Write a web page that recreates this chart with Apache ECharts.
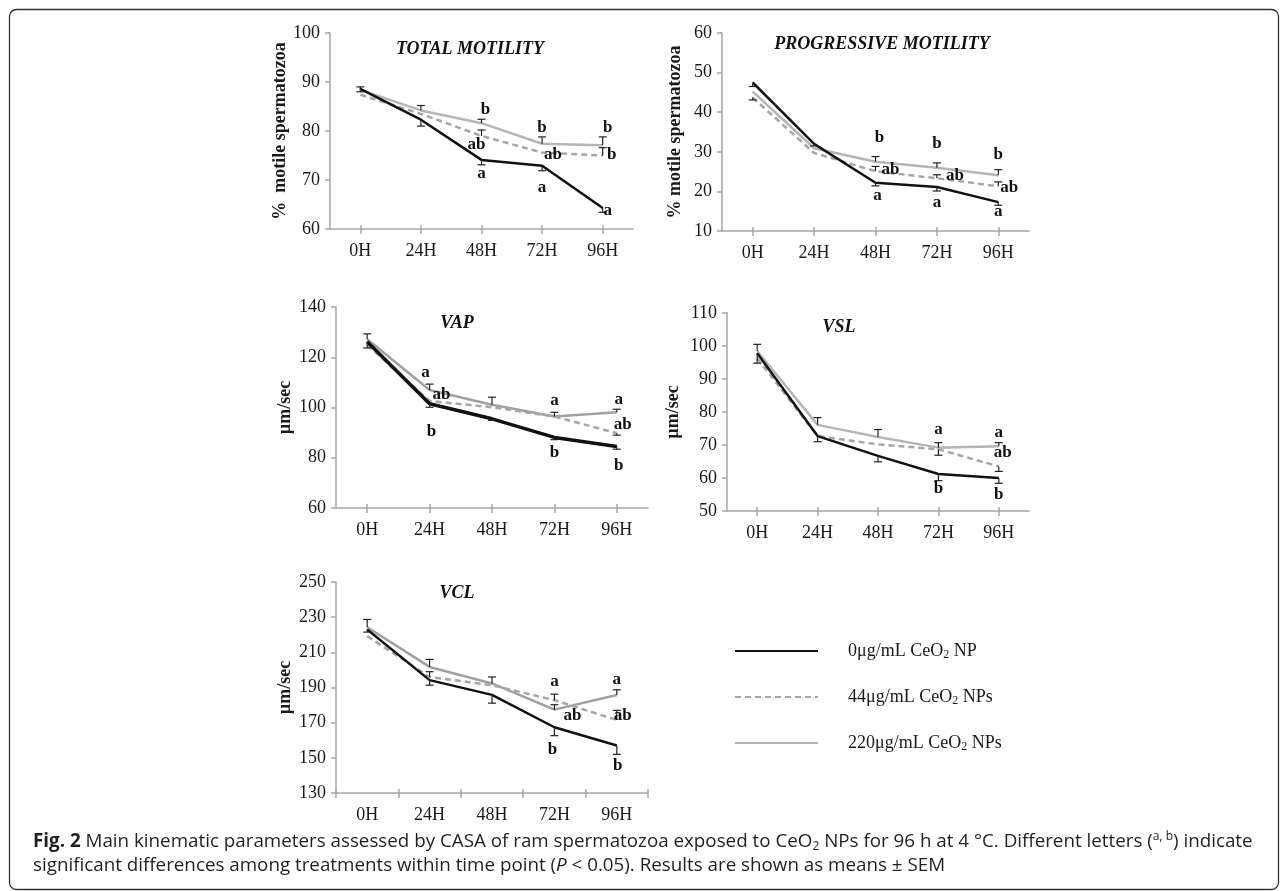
<!DOCTYPE html>
<html><head><meta charset="utf-8">
<script src="https://cdn.jsdelivr.net/npm/echarts@6/dist/echarts.min.js"></script>
<style>html,body{margin:0;padding:0;background:#fff}#c{width:1287px;height:891px}</style>
</head><body><div id="c"></div>
<script>
// ---------- DATA ----------
const hours = ['0H', '24H', '48H', '72H', '96H'];
const seriesNames = ['0μg/mL CeO2 NP', '44μg/mL CeO2 NPs', '220μg/mL CeO2 NPs'];
const panelTitles = ['TOTAL MOTILITY', 'PROGRESSIVE MOTILITY', 'VAP', 'VSL', 'VCL'];
const yNames = ['%  motile spermatozoa', '% motile spermatozoa', 'µm/sec', 'µm/sec', 'µm/sec'];

// Total motility (%)
const tmCtrl = [88.6, 82.3, 74.1, 72.9, 64.3];
const tm44   = [87.4, 83.5, 79.0, 75.6, 75.0];
const tm220  = [88.4, 84.2, 81.6, 77.4, 77.1];
const tmErrCtrl = [-0.6, -1.3, -1.0, -1.0, -0.9];
const tmErr44   = [0, 0, 1.2, 0, 1.6];
const tmErr220  = [0.6, 1.0, 0.8, 1.4, 1.7];
const tmLetters = [[2, 84.4, 'b'], [2, 77.2, 'ab'], [2, 71.4, 'a'], [3, 80.6, 'b'], [3, 75.2, 'ab'], [3, 68.4, 'a'], [4, 80.6, 'b'], [4, 75.2, 'b'], [4, 63.8, 'a']];

// Progressive motility (%)
const pmCtrl = [47.5, 32.0, 22.2, 21.1, 17.3];
const pm44   = [43.7, 29.7, 25.1, 23.3, 21.3];
const pm220  = [45.2, 30.9, 27.5, 26.0, 24.1];
const pmErrCtrl = [-1.0, -0.5, -0.8, -1.0, -0.8];
const pmErr44   = [-0.6, 0, 1.2, 0.9, 1.1];
const pmErr220  = [0, 0, 1.3, 1.2, 1.4];
const pmLetters = [[2, 33.6, 'b'], [2, 25.4, 'ab'], [2, 19.0, 'a'], [3, 32.1, 'b'], [3, 23.9, 'ab'], [3, 17.1, 'a'], [4, 29.2, 'b'], [4, 20.9, 'ab'], [4, 14.8, 'a']];

// VAP (µm/sec)
const vapCtrl = [126.2, 101.5, 95.5, 88.1, 84.5];
const vap44   = [124.9, 102.6, 100.1, 96.4, 89.8];
const vap220  = [127.2, 107.0, 101.1, 96.4, 98.1];
const vapErrCtrl = [-2.5, -1.4, -0.6, -0.9, -1.1];
const vapErr44   = [0, 0, 0, 0, -0.8];
const vapErr220  = [2.1, 2.3, 3.0, 1.7, 1.2];
const vapLetters = [[1, 114.0, 'a'], [1, 105.0, 'ab'], [1, 90.5, 'b'], [3, 102.6, 'a'], [3, 81.9, 'b'], [4, 103.3, 'a'], [4, 93.1, 'ab'], [4, 77.0, 'b']];

// VSL (µm/sec)
const vslCtrl = [97.8, 72.7, 66.7, 61.2, 60.0];
const vsl44   = [96.3, 72.7, 70.2, 68.7, 63.5];
const vsl220  = [98.5, 76.1, 72.4, 69.2, 69.6];
const vslErrCtrl = [-3.0, -1.7, -1.8, -2.0, -1.6];
const vslErr44   = [0, 0, 0, -1.8, -1.5];
const vslErr220  = [2.0, 2.2, 2.3, 1.5, 1.1];
const vslLetters = [[3, 74.7, 'a'], [3, 56.7, 'b'], [4, 73.7, 'a'], [4, 67.7, 'ab'], [4, 55.0, 'b']];

// VCL (µm/sec)
const vclCtrl = [223.0, 194.2, 185.8, 167.4, 157.0];
const vcl44   = [219.2, 196.0, 191.3, 182.8, 171.5];
const vcl220  = [224.3, 201.7, 192.3, 177.4, 185.7];
const vclErrCtrl = [-1.5, -2.9, -4.7, -4.8, -5.0];
const vclErr44   = [0, 3.0, 0, 3.4, 5.5];
const vclErr220  = [4.4, 4.3, 3.7, 2.8, 3.0];
const vclLetters = [[3, 193.4, 'a'], [3, 174.0, 'ab'], [3, 154.5, 'b'], [4, 194.7, 'a'], [4, 174.0, 'ab'], [4, 145.7, 'b']];

// y-axis ranges [min, max, interval]
const yRanges = [[60, 100, 10], [10, 60, 10], [60, 140, 20], [50, 110, 10], [130, 250, 20]];

// ---------- LAYOUT / STYLE ----------
const SERIF = "'Liberation Serif','Times New Roman',serif";
const grids = [
  {left: 330, top: 33, width: 303, height: 196},
  {left: 722, top: 33, width: 307, height: 198},
  {left: 336, top: 307, width: 312, height: 201},
  {left: 727, top: 313, width: 302, height: 198},
  {left: 336, top: 582, width: 312, height: 211}
];
const nameGaps = [38, 38, 42, 45, 42];
const titlePos = [[470, 49], [882, 44], [457, 323], [839, 327], [457, 593]];
const grayColors = ['#b5b5b5', '#b5b5b5', '#a0a0a0', '#b5b5b5', '#a0a0a0'];
const blackWidths = [2.5, 2.5, 3.5, 2.5, 2.5];
const ticksOnPoints = [true, true, true, true, false];
const letterDx = [
  [4, -5, 0, 0, 11, 0, 5, 9, 5],
  [4, 15, 2, 0, 18, 0, 0, 11, 0],
  [-4, 12, 2, 0, 0, 2, 6, 2],
  [0, 0, 0, 4, 0],
  [0, 18, -2, 0, 6, 1]
];

const panels = [
  {vals: [tmCtrl, tm44, tm220], errs: [tmErrCtrl, tmErr44, tmErr220], letters: tmLetters},
  {vals: [pmCtrl, pm44, pm220], errs: [pmErrCtrl, pmErr44, pmErr220], letters: pmLetters},
  {vals: [vapCtrl, vap44, vap220], errs: [vapErrCtrl, vapErr44, vapErr220], letters: vapLetters},
  {vals: [vslCtrl, vsl44, vsl220], errs: [vslErrCtrl, vslErr44, vslErr220], letters: vslLetters},
  {vals: [vclCtrl, vcl44, vcl220], errs: [vclErrCtrl, vclErr44, vclErr220], letters: vclLetters}
];

function errRender(params, api) {
  const x = api.value(0), y = api.value(1), e = api.value(2);
  const p0 = api.coord([x, y]);
  const p1 = api.coord([x, y + e]);
  const hw = 4;
  const st = {stroke: '#222', lineWidth: 1.2};
  return {type: 'group', children: [
    {type: 'line', shape: {x1: p0[0], y1: p0[1], x2: p1[0], y2: p1[1]}, style: st},
    {type: 'line', shape: {x1: p1[0] - hw, y1: p1[1], x2: p1[0] + hw, y2: p1[1]}, style: st}
  ]};
}

const gridOpt = [], xAxes = [], yAxes = [], series = [], graphics = [];
panels.forEach((p, k) => {
  gridOpt.push(Object.assign({containLabel: false}, grids[k]));
  const axisLineStyle = {color: '#a6a6a6', width: 1.5};
  xAxes.push({
    type: 'category', gridIndex: k, data: hours, boundaryGap: true,
    axisLine: {lineStyle: axisLineStyle},
    axisTick: {show: true, alignWithLabel: ticksOnPoints[k], length: 5, lineStyle: axisLineStyle},
    axisLabel: {color: '#1a1a1a', fontFamily: SERIF, fontSize: 18, margin: 13},
    splitLine: {show: false}
  });
  xAxes.push({
    type: 'category', gridIndex: k, data: hours, boundaryGap: true, position: 'bottom',
    axisLine: {show: false},
    axisTick: {show: true, inside: true, alignWithLabel: ticksOnPoints[k], length: 4, lineStyle: axisLineStyle},
    axisLabel: {show: false}, splitLine: {show: false}
  });
  const r = yRanges[k];
  yAxes.push({
    type: 'value', gridIndex: k, min: r[0], max: r[1], interval: r[2],
    name: yNames[k], nameLocation: 'middle', nameRotate: 90, nameGap: nameGaps[k],
    nameTextStyle: {fontFamily: SERIF, fontWeight: 'bold', fontSize: 18, color: '#1a1a1a'},
    axisLine: {show: true, lineStyle: axisLineStyle},
    axisTick: {show: true, length: 5, lineStyle: axisLineStyle},
    axisLabel: {color: '#1a1a1a', fontFamily: SERIF, fontSize: 18, margin: 10},
    splitLine: {show: false}
  });
  const xi = 2 * k;
  const lineDefs = [
    {color: '#111', width: blackWidths[k], type: 'solid', z: 4},
    {color: '#a6a6a6', width: 2.5, type: [6, 4], z: 3},
    {color: grayColors[k], width: 2.5, type: 'solid', z: 2}
  ];
  lineDefs.forEach((d, s) => {
    series.push({
      type: 'line', name: seriesNames[s], xAxisIndex: xi, yAxisIndex: k,
      data: p.vals[s], symbol: 'none', showSymbol: false, z: d.z, animation: false,
      lineStyle: {color: d.color, width: d.width, type: d.type},
      itemStyle: {color: d.color}
    });
  });
  const errData = [];
  [0, 1, 2].forEach(s => p.errs[s].forEach((e, i) => { if (e !== 0) errData.push([i, p.vals[s][i], e]); }));
  series.push({
    type: 'custom', xAxisIndex: xi, yAxisIndex: k, renderItem: errRender,
    data: errData, encode: {x: 0, y: 1}, z: 5, animation: false, silent: true
  });
  series.push({
    type: 'scatter', xAxisIndex: xi, yAxisIndex: k, symbolSize: 0, z: 6, animation: false, silent: true,
    itemStyle: {opacity: 1, color: '#1a1a1a'},
    data: p.letters.map((L, j) => ({
      value: [L[0], L[1]],
      label: {formatter: L[2], offset: [letterDx[k][j] || 0, 0]}
    })),
    label: {show: true, position: 'inside', fontFamily: SERIF, fontWeight: 'bold', fontSize: 17,
      color: '#111', opacity: 1, textBorderWidth: 0}
  });
  graphics.push({
    type: 'text', x: titlePos[k][0], y: titlePos[k][1], silent: true,
    style: {text: panelTitles[k], fontFamily: SERIF, fontWeight: 'bold', fontStyle: 'italic', fontSize: 18,
      fill: '#111', textAlign: 'center', textVerticalAlign: 'middle'}
  });
});

// frame
graphics.push({type: 'rect', shape: {x: 9.5, y: 9.5, width: 1269, height: 880, r: 7}, silent: true,
  style: {fill: 'none', stroke: '#333', lineWidth: 1.3}});

// caption
const CAP = "'Open Sans','Noto Sans',sans-serif";
const CS = 18.8;
const capRich = {
  b: {fontWeight: 'bold', fontFamily: CAP, fontSize: CS, lineHeight: 22, fill: '#231f20'},
  t: {fontFamily: CAP, fontSize: CS, lineHeight: 22, fill: '#231f20'},
  i: {fontFamily: CAP, fontStyle: 'italic', fontSize: CS, lineHeight: 22, fill: '#231f20'},
  sub: {fontFamily: CAP, fontSize: 12, lineHeight: 12, verticalAlign: 'bottom', fill: '#231f20'},
  sup: {fontFamily: CAP, fontSize: 12, lineHeight: 12, verticalAlign: 'top', fill: '#231f20'}
};
graphics.push({type: 'text', x: 33, y: 842, silent: true, style: {
  text: '{b|Fig. 2}{t| Main kinematic parameters assessed by CASA of ram spermatozoa exposed to CeO}{sub|2}{t| NPs for 96 h at 4 °C. Different letters (}{sup|a, b}{t|) indicate}',
  rich: capRich, textVerticalAlign: 'middle', fill: '#231f20', fontFamily: CAP, fontSize: CS}});
graphics.push({type: 'text', x: 33, y: 866, silent: true, style: {
  text: '{t|significant differences among treatments within time point (}{i|P}{t| < 0.05). Results are shown as means ± SEM}',
  rich: capRich, textVerticalAlign: 'middle', fill: '#231f20', fontFamily: CAP, fontSize: CS}});

const chart = echarts.init(document.getElementById('c'), null, {renderer: 'canvas'});
chart.setOption({
  backgroundColor: '#fff',
  animation: false,
  grid: gridOpt,
  xAxis: xAxes,
  yAxis: yAxes,
  legend: {
    orient: 'vertical', left: 729, top: 636, itemWidth: 83, itemHeight: 14, itemGap: 26,
    data: seriesNames, selectedMode: false,
    itemStyle: {opacity: 0, borderWidth: 0},
    formatter: n => {
      const parts = n.split('CeO2');
      return '{sp|}{t|' + parts[0] + 'CeO}{s|2}{t|' + parts[1] + '}';
    },
    textStyle: {
      fontFamily: SERIF, fontSize: 18, color: '#1a1a1a', lineHeight: 20,
      rich: {
        sp: {width: 25},
        t: {fontFamily: SERIF, fontSize: 18, lineHeight: 20, color: '#1a1a1a'},
        s: {fontFamily: SERIF, fontSize: 12, lineHeight: 12, verticalAlign: 'bottom', color: '#1a1a1a'}
      }
    }
  },
  series: series,
  graphic: graphics
});
</script></body></html>
